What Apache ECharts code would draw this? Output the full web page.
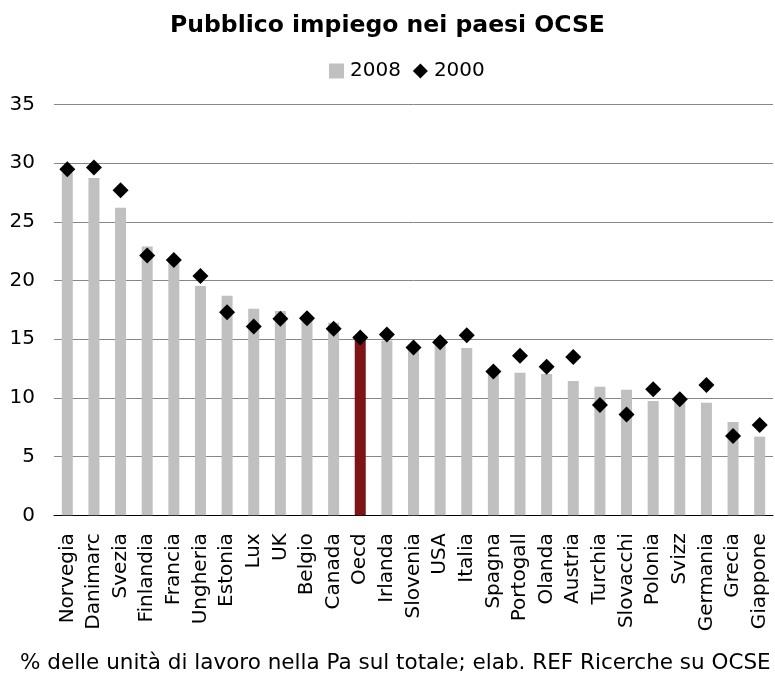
<!DOCTYPE html>
<html>
<head>
<meta charset="utf-8">
<script src="https://cdn.jsdelivr.net/npm/echarts@6/dist/echarts.min.js"></script>
<style>
html,body{margin:0;padding:0;background:#fff;}
#chart{width:775px;height:676px;}
</style>
</head>
<body>
<div id="chart"></div>
<script>
var categories = ['Norvegia','Danimarc','Svezia','Finlandia','Francia','Ungheria','Estonia','Lux','UK','Belgio','Canada','Oecd','Irlanda','Slovenia','USA','Italia','Spagna','Portogall','Olanda','Austria','Turchia','Slovacchi','Polonia','Svizz','Germania','Grecia','Giappone'];
var values2008 = [29.2, 28.75, 26.2, 22.9, 21.9, 19.55, 18.7, 17.6, 17.4, 16.6, 16.4, 15.0, 14.9, 14.2, 14.5, 14.25, 12.1, 12.15, 12.05, 11.45, 10.95, 10.7, 9.75, 9.8, 9.6, 7.95, 6.7];
var values2000 = [29.5, 29.65, 27.7, 22.15, 21.75, 20.4, 17.3, 16.1, 16.75, 16.8, 15.9, 15.15, 15.4, 14.3, 14.75, 15.35, 12.25, 13.6, 12.65, 13.5, 9.4, 8.6, 10.75, 9.9, 11.1, 6.75, 7.7];
var yTicks = [0, 5, 10, 15, 20, 25, 30, 35];
var highlightCategory = 'Oecd';
var titleText = 'Pubblico impiego nei paesi OCSE';
var footerText = '% delle unità di lavoro nella Pa sul totale; elab. REF Ricerche su OCSE';

var barData = values2008.map(function (v, i) {
  if (categories[i] === highlightCategory) {
    return { value: v, itemStyle: { color: '#7F1416' } };
  }
  return v;
});

var chart = echarts.init(document.getElementById('chart'), null, { renderer: 'canvas' });
chart.setOption({
  animation: false,
  backgroundColor: '#ffffff',
  title: {
    text: titleText,
    left: 'center',
    top: 14,
    padding: 0,
    textStyle: { fontFamily: 'DejaVu Sans', fontWeight: 'bold', fontSize: 23.5, color: '#000' }
  },
  legend: {
    left: 329,
    top: 61,
    padding: 0,
    itemWidth: 15,
    itemHeight: 15,
    itemGap: 12,
    textStyle: { fontFamily: 'DejaVu Sans', fontSize: 20, color: '#000', padding: [0, 0, 0, 1] },
    data: [
      { name: '2008', icon: 'rect', itemStyle: { opacity: 1 } },
      { name: '2000', icon: 'diamond', itemStyle: { opacity: 1, color: '#000' } }
    ]
  },
  grid: { left: 54, right: 2, top: 104.6, bottom: 160.7, containLabel: false },
  xAxis: {
    type: 'category',
    data: categories,
    axisLine: { show: true, lineStyle: { color: '#000', width: 1 } },
    axisTick: { show: false },
    axisLabel: {
      rotate: 90,
      interval: 0,
      margin: 18,
      fontFamily: 'DejaVu Sans',
      fontSize: 20,
      color: '#000'
    }
  },
  yAxis: {
    type: 'value',
    min: yTicks[0],
    max: yTicks[yTicks.length - 1],
    interval: 5,
    axisLine: { show: false },
    axisTick: { show: false },
    axisLabel: { margin: 19, fontFamily: 'DejaVu Sans', fontSize: 20, color: '#000' },
    splitLine: { show: true, lineStyle: { color: '#868686', width: 1 } }
  },
  series: [
    {
      name: '2008',
      type: 'bar',
      data: barData,
      barWidth: 11,
      itemStyle: { color: '#C0C0C0' },
      z: 2
    },
    {
      name: '2000',
      type: 'scatter',
      data: values2000,
      symbol: 'diamond',
      symbolSize: 16,
      itemStyle: { color: '#000', opacity: 1 },
      z: 5
    }
  ],
  graphic: [
    {
      type: 'text',
      left: 20,
      top: 652,
      style: {
        text: footerText,
        font: '21.5px "DejaVu Sans"',
        fill: '#000'
      }
    }
  ]
});
</script>
</body>
</html>
